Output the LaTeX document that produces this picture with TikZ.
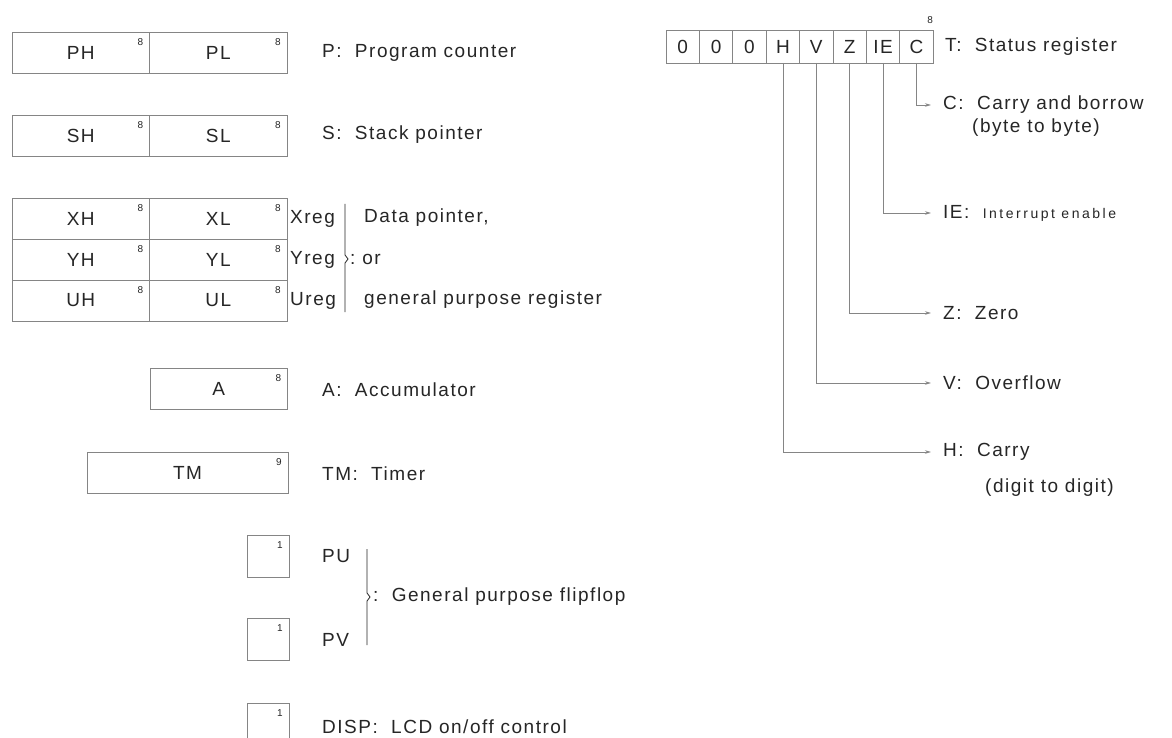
\documentclass[tikz,border=0pt]{standalone}
\usepackage{fontspec}
\setmainfont{Liberation Sans}[LetterSpace=8]
\usepackage{xcolor}
\usetikzlibrary{arrows.meta,positioning}
\newcommand{\colgap}{\hspace{0.7em}}
\definecolor{CellGray}{HTML}{858585}
\definecolor{InkGray}{HTML}{262626}

\begin{document}
\begin{tikzpicture}[
        x=1pt, y=-1pt,
        >={Stealth[length=6pt,width=3.5pt]},
        font=\fontsize{19}{22}\selectfont,
        text=InkGray,
        reg/.style={
            draw=CellGray,
            line width=0.8pt,
            anchor=north west,
            inner sep=0pt,
            outer sep=0pt,
            minimum height=41pt,
            minimum width=137.5pt
        },
        bitcell/.style={
            reg,
            minimum width=33.4pt,
            minimum height=33pt
        },
        flag/.style={
            reg,
            minimum width=42pt,
            minimum height=42pt
        },
        bitnum/.style={
            font=\fontsize{10}{10}\selectfont,
            inner sep=0pt
        },
        desc/.style={
            anchor=west,
            inner sep=0pt
        },
        lead/.style={->, draw=CellGray, line width=0.8pt},
        bracket/.style={draw=InkGray, line width=0.8pt}
    ]
        \fill[white] (0,0) rectangle (1172,738);
        \useasboundingbox (0,0) rectangle (1172,738);

        % program counter and stack pointer
        \node[reg] (ph) at (12,32) {PH};
        \node[reg, right=0pt of ph] (pl) {PL};
        \node[bitnum] (ph8) at ([shift={(-9,10)}]ph.north east) {8};
        \node[bitnum] (pl8) at ([shift={(-9,10)}]pl.north east) {8};
        \node[desc] (pdesc) at (322,53) {P:\colgap Program counter};

        \node[reg] (sh) at (12,115) {SH};
        \node[reg, right=0pt of sh] (sl) {SL};
        \node[bitnum] (sh8) at ([shift={(-9,10)}]sh.north east) {8};
        \node[bitnum] (sl8) at ([shift={(-9,10)}]sl.north east) {8};
        \node[desc] (sdesc) at (322,135) {S:\colgap Stack pointer};

        % data pointers
        \node[reg] (xh) at (12,198) {XH};
        \node[reg, right=0pt of xh] (xl) {XL};
        \node[reg, below=0pt of xh] (yh) {YH};
        \node[reg, right=0pt of yh] (yl) {YL};
        \node[reg, below=0pt of yh] (uh) {UH};
        \node[reg, right=0pt of uh] (ul) {UL};
        \node[bitnum] (xh8) at ([shift={(-9,10)}]xh.north east) {8};
        \node[bitnum] (xl8) at ([shift={(-9,10)}]xl.north east) {8};
        \node[bitnum] (yh8) at ([shift={(-9,10)}]yh.north east) {8};
        \node[bitnum] (yl8) at ([shift={(-9,10)}]yl.north east) {8};
        \node[bitnum] (uh8) at ([shift={(-9,10)}]uh.north east) {8};
        \node[bitnum] (ul8) at ([shift={(-9,10)}]ul.north east) {8};
        \node[desc, right=3pt of xl] (xreg) {Xreg};
        \node[desc, right=3pt of yl] (yreg) {Yreg};
        \node[desc, right=3pt of ul] (ureg) {Ureg};
        \draw[bracket] (345,204) -- (345,255) -- (348,259) -- (345,263) -- (345,312);
        \node[desc] (ordesc) at (350,259) {:\ or};
        \node[desc] (dpdesc) at (364,218) {Data pointer,};
        \node[desc] (gpdesc) at (364,300) {general purpose register};

        % accumulator and timer
        \node[reg] (acc) at (150,368) {A};
        \node[bitnum] (acc8) at ([shift={(-9,10)}]acc.north east) {8};
        \node[desc] (adesc) at (322,390) {A:\colgap Accumulator};

        \node[reg, minimum width=201pt] (tm) at (87,452) {TM};
        \node[bitnum] (tm9) at ([shift={(-9,10)}]tm.north east) {9};
        \node[desc] (tmdesc) at (322,474) {TM:\colgap Timer};

        % flipflops
        \node[flag] (pu) at (247,535) {};
        \node[bitnum] (pu1) at ([shift={(-9,10)}]pu.north east) {1};
        \node[desc] (pudesc) at (322,556) {PU};
        \node[flag] (pv) at (247,618) {};
        \node[bitnum] (pv1) at ([shift={(-9,10)}]pv.north east) {1};
        \node[desc] (pvdesc) at (322,640) {PV};
        \draw[bracket] (367,549) -- (367,593) -- (370,597) -- (367,601) -- (367,645);
        \node[desc] (ffdesc) at (373,597) {:\colgap General purpose flipflop};

        \node[flag] (disp) at (247,703) {};
        \node[bitnum] (disp1) at ([shift={(-9,10)}]disp.north east) {1};
        \node[desc] (dispdesc) at (322,727) {DISP:\colgap LCD on/off control};

        % status register
        \node[bitcell] (t7) at (666,30) {0};
        \node[bitcell, right=0pt of t7] (t6) {0};
        \node[bitcell, right=0pt of t6] (t5) {0};
        \node[bitcell, right=0pt of t5] (th) {H};
        \node[bitcell, right=0pt of th] (tv) {V};
        \node[bitcell, right=0pt of tv] (tz) {Z};
        \node[bitcell, right=0pt of tz] (tie) {IE};
        \node[bitcell, right=0pt of tie] (tc) {C};
        \node[bitnum] (t8) at ([shift={(-3,-10)}]tc.north east) {8};
        \node[desc] (tdesc) at (945,47) {T:\colgap Status register};

        \node[desc] (cdesc) at (943,105) {C:\colgap Carry and borrow};
        \node[desc] (cdesc2) at (972,128) {(byte to byte)};
        \node[desc] (iedesc) at (943,213) {IE:\colgap {\fontsize{14}{16}\selectfont\addfontfeature{LetterSpace=18}Interrupt enable}};
        \node[desc] (zdesc) at (943,313) {Z:\colgap Zero};
        \node[desc] (vdesc) at (943,383) {V:\colgap Overflow};
        \node[desc] (hdesc) at (943,452) {H:\colgap Carry};
        \node[desc] (hdesc2) at (985,488) {(digit to digit)};

        \draw[lead] (tc.south) |- ([xshift=-12]cdesc.west);
        \draw[lead] (tie.south) |- ([xshift=-12]iedesc.west);
        \draw[lead] (tz.south) |- ([xshift=-12]zdesc.west);
        \draw[lead] (tv.south) |- ([xshift=-12]vdesc.west);
        \draw[lead] (th.south) |- ([xshift=-12]hdesc.west);
    \end{tikzpicture}
\end{document}
